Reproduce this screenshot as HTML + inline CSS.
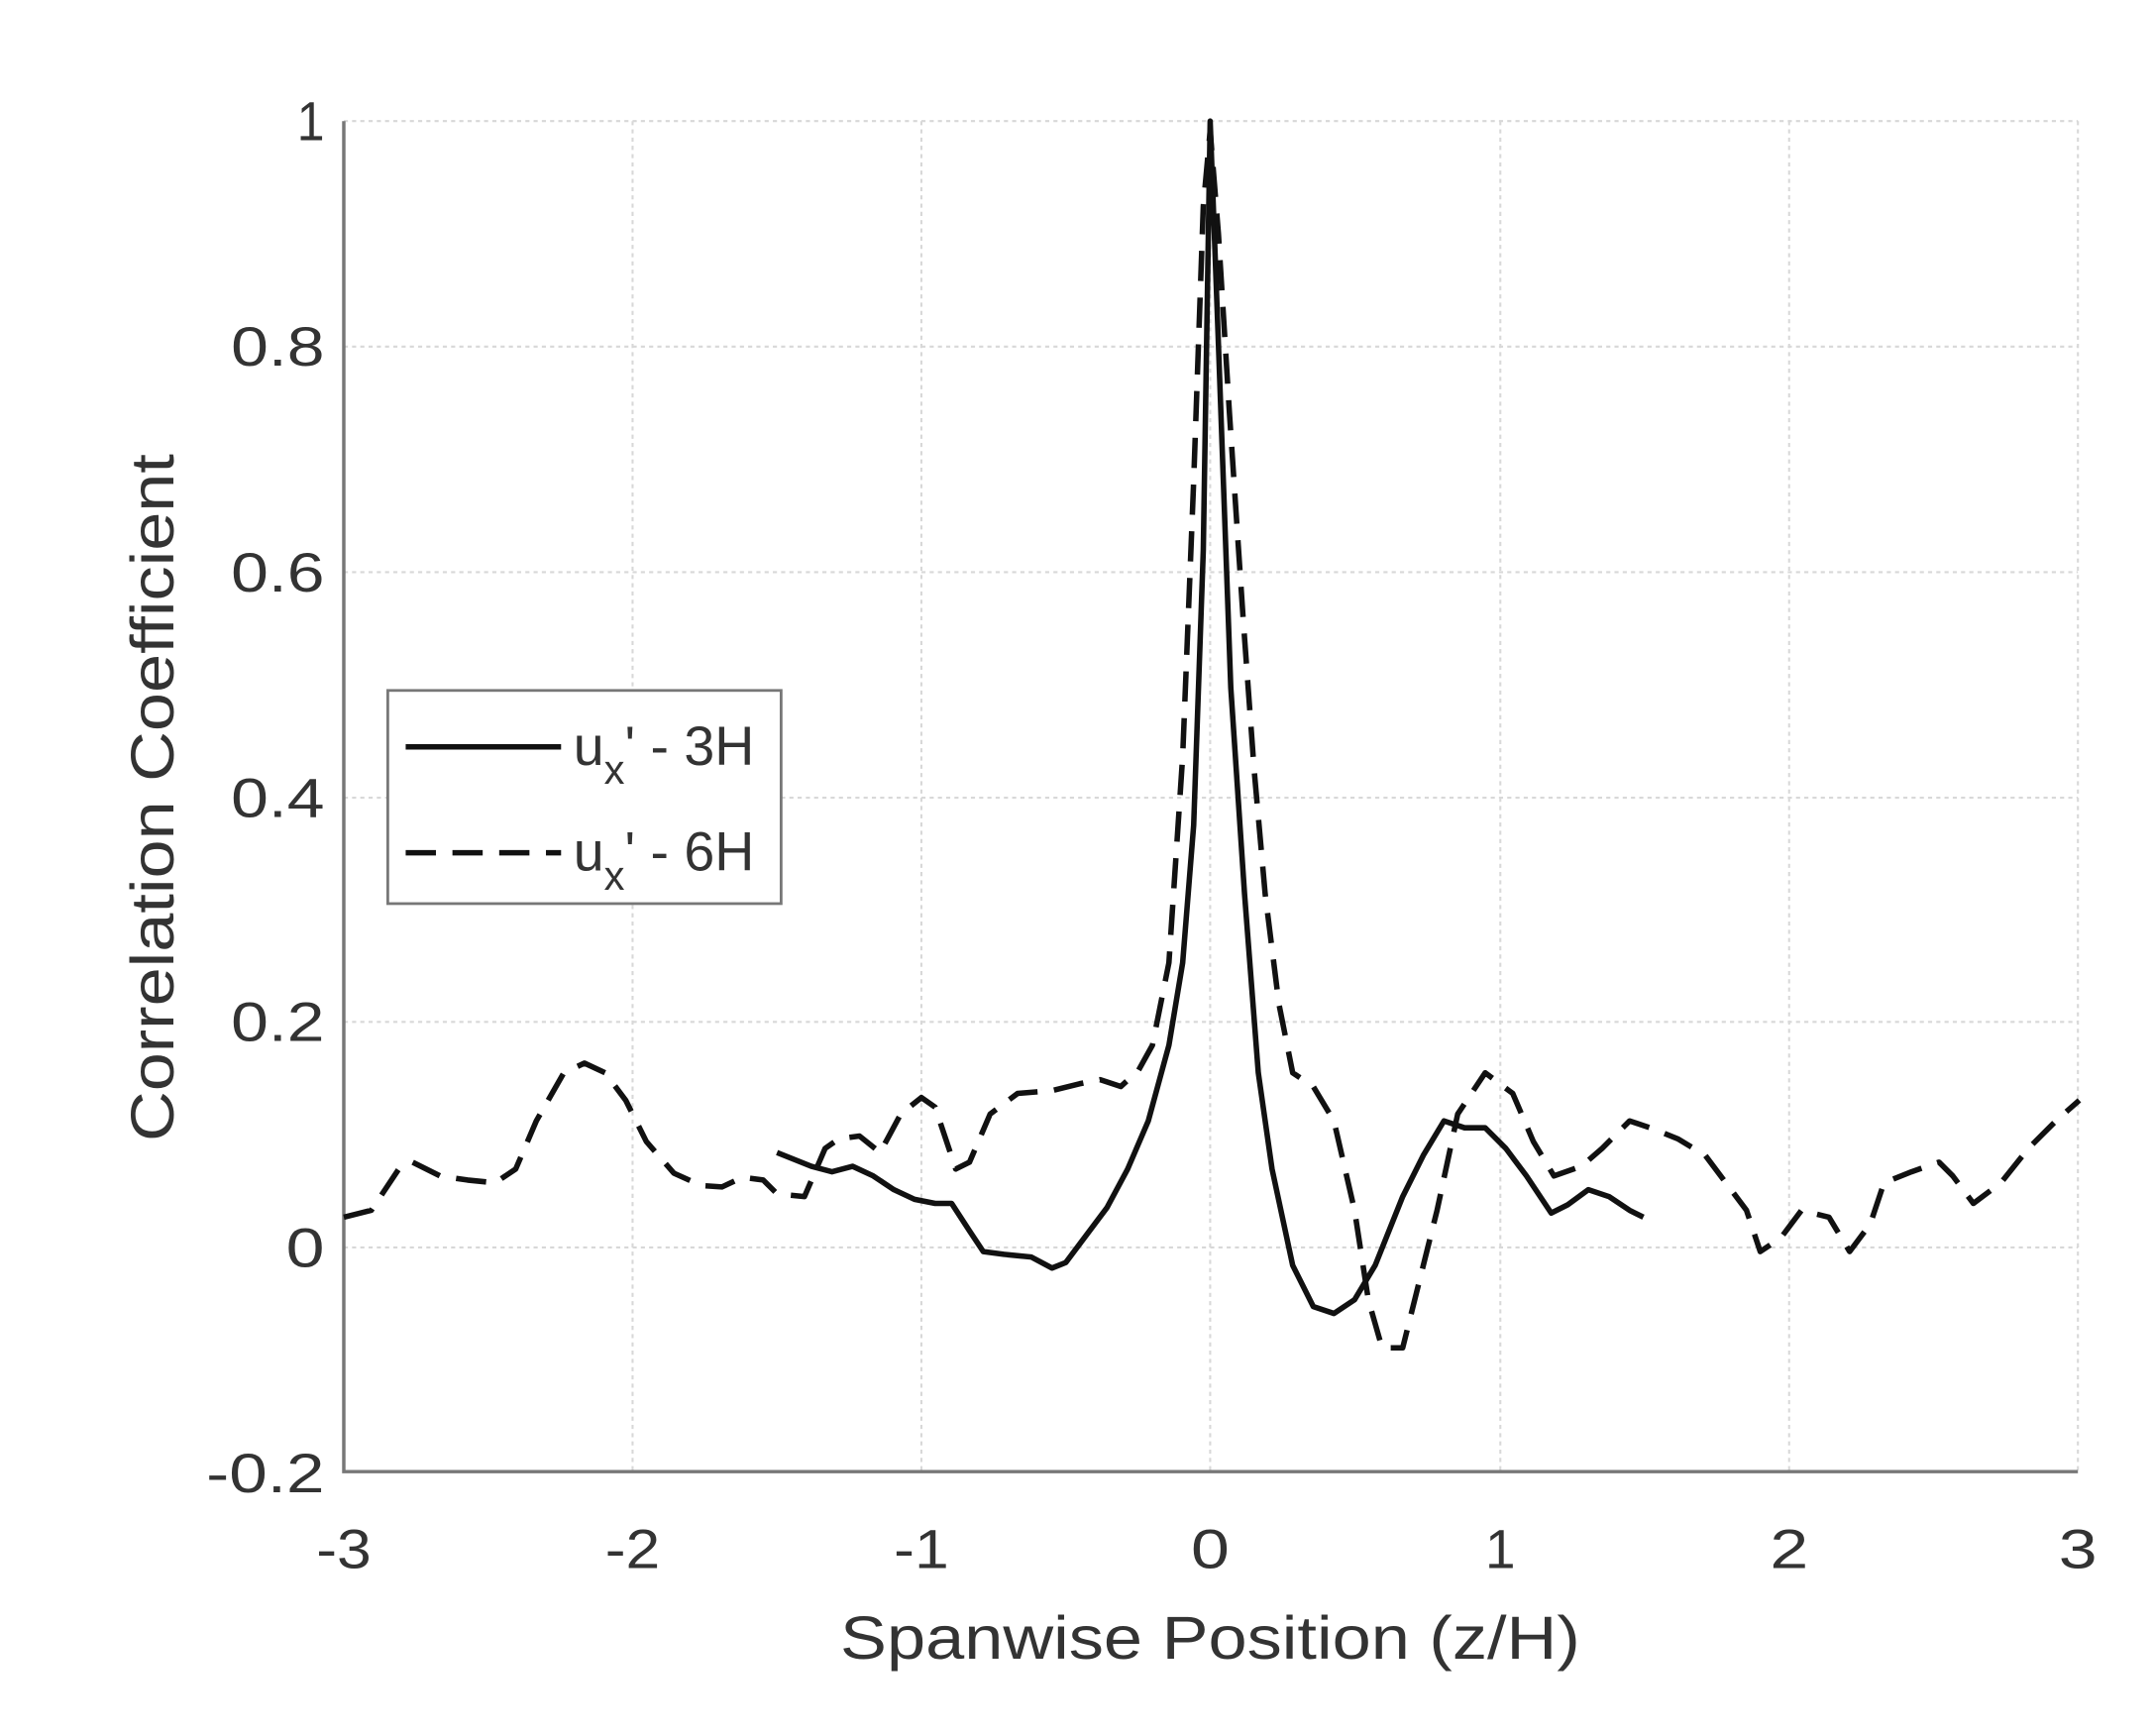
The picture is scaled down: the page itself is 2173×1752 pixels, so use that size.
<!DOCTYPE html>
<html><head><meta charset="utf-8"><style>html,body{margin:0;padding:0;background:#fff}svg{display:block}</style></head>
<body>
<svg width="2173" height="1752" viewBox="0 0 1565.6 1262.2" xmlns="http://www.w3.org/2000/svg" font-family="Liberation Sans, Arial, sans-serif">
<rect width="1565.6" height="1262.2" fill="#fff"/>
<g stroke="#d8d8d8" stroke-width="1.5" stroke-dasharray="3,3">
<line x1="460" y1="88" x2="460" y2="1070"/><line x1="670" y1="88" x2="670" y2="1070"/><line x1="880" y1="88" x2="880" y2="1070"/><line x1="1091" y1="88" x2="1091" y2="1070"/><line x1="1301" y1="88" x2="1301" y2="1070"/><line x1="1511" y1="88" x2="1511" y2="1070"/>
<line x1="250" y1="88" x2="1511" y2="88"/><line x1="250" y1="252" x2="1511" y2="252"/><line x1="250" y1="416" x2="1511" y2="416"/><line x1="250" y1="580" x2="1511" y2="580"/><line x1="250" y1="743" x2="1511" y2="743"/><line x1="250" y1="907" x2="1511" y2="907"/>
</g>
<path d="M250,88 V1070 H1511" fill="none" stroke="#777" stroke-width="2.5"/>
<g fill="#333" font-size="40" text-anchor="end" lengthAdjust="spacingAndGlyphs">
<text x="236" y="102" textLength="20" lengthAdjust="spacingAndGlyphs">1</text>
<text x="236" y="266" textLength="68" lengthAdjust="spacingAndGlyphs">0.8</text>
<text x="236" y="430" textLength="68" lengthAdjust="spacingAndGlyphs">0.6</text>
<text x="236" y="594" textLength="68" lengthAdjust="spacingAndGlyphs">0.4</text>
<text x="236" y="757" textLength="68" lengthAdjust="spacingAndGlyphs">0.2</text>
<text x="236" y="921" textLength="28" lengthAdjust="spacingAndGlyphs">0</text>
<text x="236" y="1085" textLength="86" lengthAdjust="spacingAndGlyphs">-0.2</text>
</g>
<g fill="#333" font-size="40" text-anchor="middle">
<text x="250" y="1140" textLength="40" lengthAdjust="spacingAndGlyphs">-3</text>
<text x="460" y="1140" textLength="40" lengthAdjust="spacingAndGlyphs">-2</text>
<text x="670" y="1140" textLength="40" lengthAdjust="spacingAndGlyphs">-1</text>
<text x="880" y="1140" textLength="28" lengthAdjust="spacingAndGlyphs">0</text>
<text x="1091" y="1140" textLength="22" lengthAdjust="spacingAndGlyphs">1</text>
<text x="1301" y="1140" textLength="28" lengthAdjust="spacingAndGlyphs">2</text>
<text x="1511" y="1140" textLength="28" lengthAdjust="spacingAndGlyphs">3</text>
<text x="880" y="1206" font-size="44" textLength="538" lengthAdjust="spacingAndGlyphs">Spanwise Position (z/H)</text>
<text transform="translate(126,580) rotate(-90)" font-size="44" textLength="500" lengthAdjust="spacingAndGlyphs">Correlation Coefficient</text>
</g>
<polyline fill="none" stroke="#111" stroke-width="4" stroke-linejoin="round" points="565,838 590,848 605,852 620,848 635,855 650,865 665,872 680,875 692,875 705,895 715,910 730,912 750,914 765,922 775,918 790,898 805,878 820,850 835,815 850,760 860,700 868,600 875,400 880,88 886,250 895,500 905,650 915,780 925,850 940,920 955,950 970,955 985,945 1000,920 1020,870 1035,840 1050,815 1065,820 1080,820 1095,835 1110,855 1128,882 1140,876 1155,865 1170,870 1185,880 1195,885"/>
<polyline fill="none" stroke="#111" stroke-width="4" stroke-dasharray="22,12" stroke-linejoin="round" points="250,885 270,880 290,850 300,845 320,855 340,858 360,860 375,850 390,815 410,780 425,773 440,780 455,800 470,830 490,853 510,862 525,863 540,856 555,858 565,868 585,870 600,835 610,828 625,826 640,838 655,810 670,798 680,805 695,850 705,845 720,810 740,795 765,793 785,788 800,785 815,790 828,778 838,760 850,700 860,550 868,350 875,150 880,95 886,170 894,300 904,450 912,560 920,650 930,730 940,780 955,790 970,815 985,880 995,945 1005,980 1020,980 1030,940 1045,880 1060,810 1080,780 1100,795 1115,830 1130,855 1150,848 1165,835 1185,815 1200,820 1220,828 1240,840 1255,860 1270,880 1280,910 1295,900 1310,880 1330,885 1345,910 1360,890 1370,860 1390,852 1410,845 1420,855 1435,875 1455,860 1475,835 1495,815 1512,800"/>
<rect x="282" y="502" width="286" height="155" fill="#fff" stroke="#777" stroke-width="2"/>
<line x1="295" y1="543" x2="408" y2="543" stroke="#111" stroke-width="4"/>
<line x1="295" y1="620" x2="408" y2="620" stroke="#111" stroke-width="4" stroke-dasharray="22,12"/>
<g fill="#333" font-size="40">
<text x="417" y="556">u<tspan font-size="30" dy="14">x</tspan><tspan dy="-14">' - 3H</tspan></text>
<text x="417" y="633">u<tspan font-size="30" dy="14">x</tspan><tspan dy="-14">' - 6H</tspan></text>
</g>
</svg>
</body></html>
